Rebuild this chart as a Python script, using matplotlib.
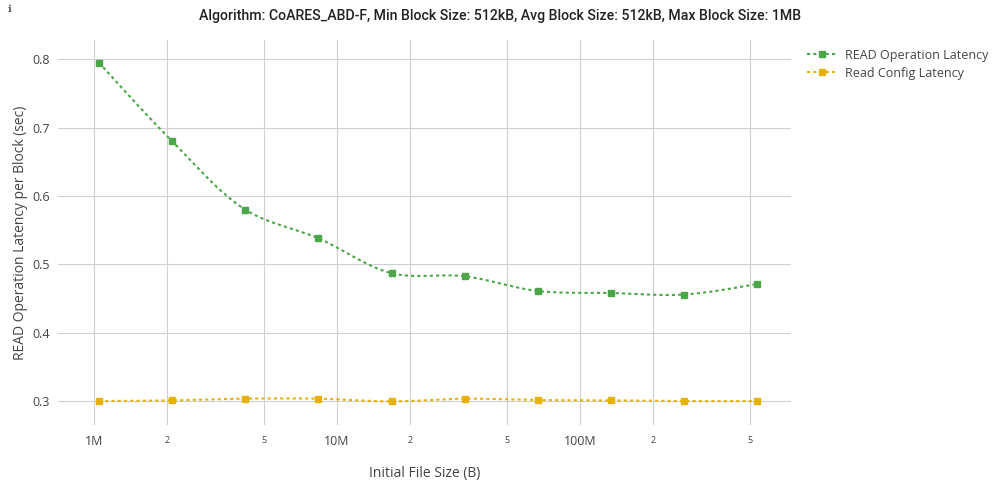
import numpy as np
import matplotlib
matplotlib.use('Agg')
import matplotlib.pyplot as plt
from matplotlib.ticker import FixedLocator, NullFormatter

plt.rcParams['font.family'] = ['Open Sans', 'DejaVu Sans']

# data
file_sizes = [1048576 * 2 ** k for k in range(10)]
read_op_latency = [0.795, 0.680, 0.580, 0.538, 0.487, 0.4825, 0.461, 0.458, 0.4558, 0.4713]
read_cfg_latency = [0.300, 0.301, 0.3035, 0.3035, 0.2995, 0.3035, 0.3015, 0.301, 0.300, 0.300]

series_names = ['READ Operation Latency', 'Read Config Latency']
series_colors = ['#4ca548', '#e6b20a']

title = ('Algorithm: CoARES_ABD-F, Min Block Size: 512kB, '
         'Avg Block Size: 512kB, Max Block Size: 1MB')
x_label = 'Initial File Size (B)'
y_label = 'READ Operation Latency per Block (sec)'

major_ticks = [1e6, 1e7, 1e8]
major_labels = ['1M', '10M', '100M']
minor_ticks = [2e6, 5e6, 2e7, 5e7, 2e8, 5e8]
minor_labels = ['2', '5', '2', '5', '2', '5']
y_ticks = [0.3, 0.4, 0.5, 0.6, 0.7, 0.8]

TXT = '#444444'
GRID = '#d0d0d0'

# pixel scale of the reference, used so the spline looks like plotly's
PX_DECADE = 243.0
PX_UNIT = 683.0


def tangent(p0, p1, p2, smooth=1.0):
    d1 = p0 - p1
    d2 = p2 - p1
    d1a = np.hypot(*d1) ** 0.5
    d2a = np.hypot(*d2) ** 0.5
    num = (d2a * d2a * d1 - d1a * d1a * d2) * smooth
    den1 = 3 * d2a * (d1a + d2a)
    den2 = 3 * d1a * (d1a + d2a)
    return p1 + num / den1, p1 - num / den2


def spline(xs, ys, n=40):
    pts = np.column_stack([np.log10(xs) * PX_DECADE, np.array(ys) * PX_UNIT])
    tans = [tangent(pts[i - 1], pts[i], pts[i + 1]) for i in range(1, len(pts) - 1)]
    t = np.linspace(0, 1, n)[:, None]
    segs = []
    # first segment: quadratic
    a, c, b = pts[0], tans[0][0], pts[1]
    segs.append((1 - t) ** 2 * a + 2 * (1 - t) * t * c + t ** 2 * b)
    for i in range(1, len(pts) - 2):
        a, c1, c2, b = pts[i], tans[i - 1][1], tans[i][0], pts[i + 1]
        segs.append((1 - t) ** 3 * a + 3 * (1 - t) ** 2 * t * c1
                    + 3 * (1 - t) * t ** 2 * c2 + t ** 3 * b)
    a, c, b = pts[-2], tans[-1][1], pts[-1]
    segs.append((1 - t) ** 2 * a + 2 * (1 - t) * t * c + t ** 2 * b)
    out = np.vstack(segs)
    return 10 ** (out[:, 0] / PX_DECADE), out[:, 1] / PX_UNIT


fig = plt.figure(figsize=(10, 5), dpi=100)
ax = fig.add_axes([0.058, 0.15, 0.733, 0.77])

for ys, name, col in zip([read_op_latency, read_cfg_latency], series_names, series_colors):
    sx, sy = spline(file_sizes, ys)
    ax.plot(sx, sy, color=col, lw=1.5, linestyle=(0, (1.5, 1.5)), zorder=3)
    ax.plot(file_sizes, ys, 's', color=col, ms=4.8, zorder=4)
    # legend proxy
    ax.plot([], [], color=col, lw=1.5, linestyle=(0, (1.5, 1.5)), marker='s', ms=4.8, label=name)

ax.set_xscale('log')
ax.set_xlim(10 ** 5.852, 10 ** 8.869)
ax.set_ylim(0.265, 0.828)

ax.xaxis.set_major_locator(FixedLocator(major_ticks))
ax.set_xticklabels(major_labels)
ax.xaxis.set_minor_locator(FixedLocator(minor_ticks))
ax.xaxis.set_minor_formatter(NullFormatter())
ax.set_xticks(minor_ticks, minor_labels, minor=True)
ax.set_yticks(y_ticks)
ax.set_yticklabels(['%.1f' % v for v in y_ticks])

ax.tick_params(axis='x', which='major', length=0, pad=7, labelsize=9, labelcolor=TXT)
ax.tick_params(axis='x', which='minor', length=0, pad=8, labelsize=6.5, labelcolor=TXT)
ax.tick_params(axis='y', length=0, pad=6, labelsize=9, labelcolor=TXT)

ax.grid(True, which='both', color=GRID, lw=0.8)
ax.set_axisbelow(True)
for s in ax.spines.values():
    s.set_visible(False)

ax.set_xlabel(x_label, fontsize=10, color=TXT, labelpad=13)
ax.set_ylabel(y_label, fontsize=10, color=TXT, labelpad=3)

fig.text(0.5, 0.968, title, ha='center', va='center', fontsize=10.2, color='#222222',
         family=['Roboto', 'DejaVu Sans'], fontweight='medium')
fig.text(0.008, 0.982, 'ℹ', ha='left', va='center', fontsize=7, color='#555555',
         family=['DejaVu Serif', 'DejaVu Sans'], fontweight='bold')

ax.legend(loc='upper left', bbox_to_anchor=(1.01, 1.0), frameon=False, fontsize=9,
          labelcolor=TXT, handlelength=2.4, handletextpad=0.6, borderaxespad=0.3,
          labelspacing=0.4)

fig.savefig('out.png', dpi=100)
